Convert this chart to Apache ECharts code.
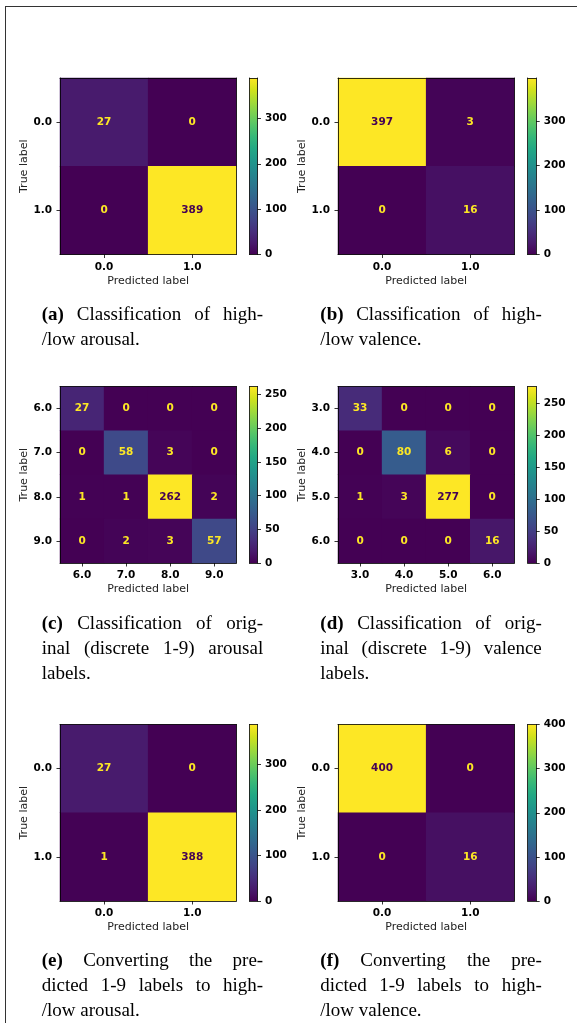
<!DOCTYPE html>
<html><head><meta charset="utf-8">
<script src="https://cdn.jsdelivr.net/npm/echarts@6/dist/echarts.min.js"></script>
<style>
html,body{margin:0;padding:0;background:#fff;}
#frame{position:absolute;left:5px;top:6px;width:700px;height:1100px;border-top:1px solid #333;border-left:1px solid #333;}
#c{position:absolute;left:0;top:0;width:577px;height:1023px;}
</style>
</head><body><div id="frame"></div><div id="c"></div>
<script>
// ---------- data ----------
const catsA = ['0.0', '1.0'];
const catsB = ['0.0', '1.0'];
const catsC = ['6.0', '7.0', '8.0', '9.0'];
const catsD = ['3.0', '4.0', '5.0', '6.0'];
const catsE = ['0.0', '1.0'];
const catsF = ['0.0', '1.0'];

const matrixA = [[27, 0], [0, 389]];
const matrixB = [[397, 3], [0, 16]];
const matrixC = [[27, 0, 0, 0], [0, 58, 3, 0], [1, 1, 262, 2], [0, 2, 3, 57]];
const matrixD = [[33, 0, 0, 0], [0, 80, 6, 0], [1, 3, 277, 0], [0, 0, 0, 16]];
const matrixE = [[27, 0], [1, 388]];
const matrixF = [[400, 0], [0, 16]];

const cbTicksA = [0, 100, 200, 300];
const cbTicksB = [0, 100, 200, 300];
const cbTicksC = [0, 50, 100, 150, 200, 250];
const cbTicksD = [0, 50, 100, 150, 200, 250];
const cbTicksE = [0, 100, 200, 300];
const cbTicksF = [0, 100, 200, 300, 400];

const capTagA = '(a)'; const capLinesA = ['Classification of high-', '/low arousal.'];
const capTagB = '(b)'; const capLinesB = ['Classification of high-', '/low valence.'];
const capTagC = '(c)'; const capLinesC = ['Classification of orig-', 'inal (discrete 1-9) arousal', 'labels.'];
const capTagD = '(d)'; const capLinesD = ['Classification of orig-', 'inal (discrete 1-9) valence', 'labels.'];
const capTagE = '(e)'; const capLinesE = ['Converting the pre-', 'dicted 1-9 labels to high-', '/low arousal.'];
const capTagF = '(f)'; const capLinesF = ['Converting the pre-', 'dicted 1-9 labels to high-', '/low valence.'];

const xName = 'Predicted label';
const yName = 'True label';

// ---------- style ----------
const viridis = ['#440154','#481a6c','#472f7d','#414487','#39568c','#31688e','#2a788e','#23888e',
                 '#1f988b','#22a884','#35b779','#54c568','#7ad151','#a5db36','#d2e21b','#fde725'];
const FONT = 'DejaVu Sans';
const boldLbl = {fontFamily: FONT, fontWeight: 'bold', fontSize: 10.5, color: '#000'};
const lineSt = {color: '#000', width: 0.8};

const panels = [
  {cats: catsA, m: matrixA, ticks: cbTicksA, left: 60,  top: 78,    cbLeft: 249.5, cbW: 8,   capX: 41.7,  capY: 315, tag: capTagA, lines: capLinesA},
  {cats: catsB, m: matrixB, ticks: cbTicksB, left: 338, top: 78,    cbLeft: 527.7, cbW: 8.5, capX: 320.3, capY: 315, tag: capTagB, lines: capLinesB},
  {cats: catsC, m: matrixC, ticks: cbTicksC, left: 60,  top: 386.5, cbLeft: 249.5, cbW: 8,   capX: 41.7,  capY: 624, tag: capTagC, lines: capLinesC},
  {cats: catsD, m: matrixD, ticks: cbTicksD, left: 338, top: 386.5, cbLeft: 527.7, cbW: 8.5, capX: 320.3, capY: 624, tag: capTagD, lines: capLinesD},
  {cats: catsE, m: matrixE, ticks: cbTicksE, left: 60,  top: 724.5, cbLeft: 249.5, cbW: 8,   capX: 41.7,  capY: 961, tag: capTagE, lines: capLinesE},
  {cats: catsF, m: matrixF, ticks: cbTicksF, left: 338, top: 724.5, cbLeft: 527.7, cbW: 8.5, capX: 320.3, capY: 961, tag: capTagF, lines: capLinesF}
];
const W = 176.3, H = 176.5;

const grid = [], xAxis = [], yAxis = [], series = [], visualMap = [], graphic = [];

function plainAxis(g, extra) {
  return Object.assign({
    gridIndex: g, axisLine: {show: true, onZero: false, lineStyle: lineSt},
    axisTick: {show: false}, axisLabel: {show: false}, splitLine: {show: false}, z: 10
  }, extra);
}

function addCaption(x0, y0, tag, lines) {
  const ctx = document.createElement('canvas').getContext('2d');
  const fN = '19px "Liberation Serif"', fB = 'bold 19px "Liberation Serif"';
  const CAP_W = 221.5;
  lines.forEach((line, li) => {
    const y = y0 + li * 25;
    const words = line.split(' ').map(t => ({t: t, f: fN}));
    if (li === 0) words.unshift({t: tag, f: fB});
    words.forEach(w => { ctx.font = w.f; w.w = ctx.measureText(w.t).width; });
    ctx.font = fN;
    let gap = ctx.measureText(' ').width;
    if (li < lines.length - 1 && words.length > 1) {
      const sum = words.reduce((a, w) => a + w.w, 0);
      gap = (CAP_W - sum) / (words.length - 1);
    }
    let x = x0;
    words.forEach(w => {
      graphic.push({type: 'text', x: x, y: y, silent: true,
        style: {text: w.t, font: w.f, fill: '#000', verticalAlign: 'middle', align: 'left'}});
      x += w.w + gap;
    });
  });
}

panels.forEach((p) => {
  const vals = p.m.flat();
  const vmax = Math.max(...vals), vmin = Math.min(...vals);
  const thr = (vmax + vmin) / 2;
  // heatmap grid
  const gH = grid.length;
  grid.push({left: p.left, top: p.top, width: W, height: H, containLabel: false});
  const xi = xAxis.length;
  xAxis.push({
    gridIndex: gH, type: 'category', data: p.cats, position: 'bottom',
    axisLine: {show: true, onZero: false, lineStyle: lineSt},
    axisTick: {show: true, alignWithLabel: true, length: 3.5, lineStyle: lineSt},
    axisLabel: Object.assign({margin: 7}, boldLbl), splitLine: {show: false},
    name: xName, nameLocation: 'middle', nameGap: 21,
    nameTextStyle: {fontFamily: FONT, fontSize: 11, color: '#222'}, z: 10
  });
  xAxis.push(plainAxis(gH, {type: 'category', data: p.cats, position: 'top'}));
  const yi = yAxis.length;
  yAxis.push({
    gridIndex: gH, type: 'category', data: p.cats, inverse: true, position: 'left',
    axisLine: {show: true, onZero: false, lineStyle: lineSt},
    axisTick: {show: true, alignWithLabel: true, length: 3.5, lineStyle: lineSt},
    axisLabel: Object.assign({margin: 8}, boldLbl), splitLine: {show: false},
    name: yName, nameLocation: 'middle', nameGap: 30,
    nameTextStyle: {fontFamily: FONT, fontSize: 11, color: '#222'}, z: 10
  });
  yAxis.push(plainAxis(gH, {type: 'category', data: p.cats, inverse: true, position: 'right'}));
  const data = [];
  p.m.forEach((row, i) => row.forEach((v, j) => {
    data.push({value: [j, i, v], label: {color: v < thr ? '#fde725' : '#440154'}});
  }));
  const sIdx = series.length;
  series.push({
    type: 'heatmap', xAxisIndex: xi, yAxisIndex: yi, data: data, silent: true,
    itemStyle: {borderWidth: 0},
    label: {show: true, fontFamily: FONT, fontWeight: 'bold', fontSize: 10.5,
            formatter: prm => String(prm.value[2])}
  });
  visualMap.push({type: 'continuous', show: false, seriesIndex: sIdx, dimension: 2,
                  min: 0, max: vmax, inRange: {color: viridis}});
  // colorbar grid
  const gC = grid.length;
  grid.push({left: p.cbLeft, top: p.top, width: p.cbW, height: H, containLabel: false});
  const cxi = xAxis.length;
  xAxis.push(plainAxis(gC, {type: 'category', data: ['cb'], position: 'bottom'}));
  xAxis.push(plainAxis(gC, {type: 'category', data: ['cb'], position: 'top'}));
  const cyi = yAxis.length;
  yAxis.push({
    gridIndex: gC, type: 'value', min: 0, max: vmax, position: 'right',
    axisLine: {show: true, onZero: false, lineStyle: lineSt},
    axisTick: {show: true, length: 3.5, lineStyle: lineSt, customValues: p.ticks},
    axisLabel: Object.assign({margin: 7.5, customValues: p.ticks}, boldLbl),
    splitLine: {show: false}, z: 10
  });
  yAxis.push(plainAxis(gC, {type: 'value', min: 0, max: vmax, position: 'left'}));
  series.push({
    type: 'bar', xAxisIndex: cxi, yAxisIndex: cyi, data: [vmax], barWidth: '100%', silent: true,
    itemStyle: {color: new echarts.graphic.LinearGradient(0, 1, 0, 0,
      viridis.map((c, i) => ({offset: i / (viridis.length - 1), color: c})))}
  });
  addCaption(p.capX, p.capY, p.tag, p.lines);
});

const chart = echarts.init(document.getElementById('c'), null, {renderer: 'canvas'});
chart.setOption({
  animation: false, backgroundColor: 'transparent',
  grid: grid, xAxis: xAxis, yAxis: yAxis, series: series, visualMap: visualMap, graphic: graphic
});
</script>
</body></html>
